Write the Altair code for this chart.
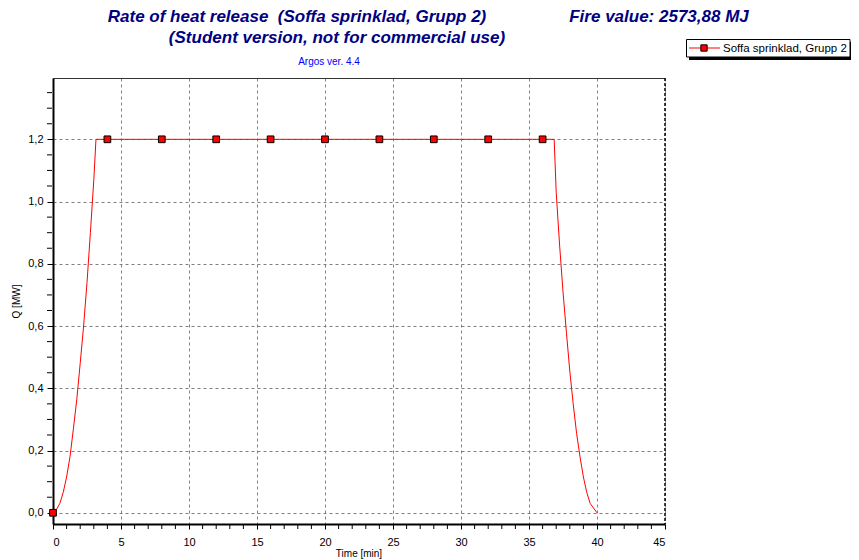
import altair as alt
import pandas as pd

# ---- data ----
line_t = [0.0, 0.25, 0.5, 0.75, 1.0, 1.25, 1.5, 1.75, 2.0, 2.25, 2.5, 2.75, 3.0, 3.16,
          36.85, 37.0, 37.25, 37.5, 37.75, 38.0, 38.25, 38.5, 38.75, 39.0, 39.25, 39.5, 40.0]
line_q = [0.0, 0.01, 0.03, 0.065, 0.115, 0.18, 0.27, 0.365, 0.48, 0.6, 0.74, 0.9, 1.07, 1.2,
          1.2, 1.03, 0.86, 0.71, 0.58, 0.455, 0.35, 0.255, 0.18, 0.115, 0.065, 0.03, 0.0]
marker_t = [0, 4, 8, 12, 16, 20, 24, 28, 32, 36]
marker_q = [0.0, 1.2, 1.2, 1.2, 1.2, 1.2, 1.2, 1.2, 1.2, 1.2]

series_name = "Soffa sprinklad, Grupp 2"
title_main = "Rate of heat release \u00a0(Soffa sprinklad, Grupp 2)"
title_fire = "Fire value: 2573,88 MJ"
title_sub = "(Student version, not for commercial use)"
title_ver = "Argos ver. 4.4"
x_title = "Time [min]"
y_title = "Q [MW]"

x_major = [0, 5, 10, 15, 20, 25, 30, 35, 40, 45]
x_minor = [v for v in range(0, 46) if v % 5 != 0]
y_major = [0.0, 0.2, 0.4, 0.6, 0.8, 1.0, 1.2]
y_minor = [0.05, 0.1, 0.15, 0.25, 0.3, 0.35, 0.45, 0.5, 0.55, 0.65, 0.7, 0.75,
           0.85, 0.9, 0.95, 1.05, 1.1, 1.15, 1.25, 1.3, 1.35]

FONT = "Liberation Sans"
NAVY = "#000080"

line_df = pd.DataFrame({"t": line_t, "q": line_q})
marker_df = pd.DataFrame({"t": marker_t, "q": marker_q})

x_scale = alt.Scale(domain=[0, 45], nice=False, zero=False)
y_scale = alt.Scale(domain=[-0.036, 1.397], nice=False, zero=False)

x_axis = alt.Axis(
    values=x_major, tickCount=10, labelOverlap=False,
    grid=True, gridColor="#808080", gridDash=[3, 3], gridWidth=1,
    domainColor="black", domainWidth=2,
    tickColor="black", tickSize=5, tickWidth=1,
    labelFont=FONT, labelFontSize=11, labelColor="black", labelPadding=7,
    title=None,
)
y_axis = alt.Axis(
    values=y_major, tickCount=7, labelOverlap=False,
    labelExpr="replace(format(datum.value, '.1f'), '.', ',')",
    grid=True, gridColor="#808080", gridDash=[3, 3], gridWidth=1,
    domainColor="black", domainWidth=2,
    tickColor="black", tickSize=6, tickWidth=1,
    labelFont=FONT, labelFontSize=11, labelColor="black", labelPadding=4,
    title=y_title, titleFont=FONT, titleFontSize=10, titleFontWeight="normal",
    titleColor="black", titlePadding=6,
)

base_line = alt.Chart(line_df).mark_line(color="#ff0000", strokeWidth=1).encode(
    x=alt.X("t:Q", scale=x_scale, axis=x_axis),
    y=alt.Y("q:Q", scale=y_scale, axis=y_axis),
)
markers = alt.Chart(marker_df).mark_point(
    shape="square", filled=True, fill="#ff0000", stroke="black", strokeWidth=1,
    size=45, opacity=1,
).encode(x=alt.X("t:Q", scale=x_scale, axis=x_axis),
         y=alt.Y("q:Q", scale=y_scale, axis=y_axis))

x_minor_ticks = alt.Chart(pd.DataFrame({"t": x_minor})).mark_rule(color="black", strokeWidth=1).encode(
    x=alt.X("t:Q", scale=x_scale, axis=x_axis), y=alt.value(447), y2=alt.value(451))
y_minor_ticks = alt.Chart(pd.DataFrame({"q": y_minor})).mark_rule(color="black", strokeWidth=1).encode(
    y=alt.Y("q:Q", scale=y_scale, axis=y_axis), x=alt.value(-6), x2=alt.value(-1))

one = pd.DataFrame({"v": [0]})

top_border = alt.Chart(one).mark_rule(color="#333333", strokeWidth=1).encode(
    x=alt.value(0), x2=alt.value(612), y=alt.value(0.5))
right_border = alt.Chart(one).mark_rule(color="black", strokeWidth=1.5, strokeDash=[3, 2]).encode(
    x=alt.value(612), y=alt.value(0), y2=alt.value(446))


def txt(s, x, y, size, color, bold=False, italic=False, align="center", baseline="middle"):
    return alt.Chart(pd.DataFrame({"s": [s]})).mark_text(
        font=FONT, fontSize=size, color=color, align=align, baseline=baseline,
        fontWeight="bold" if bold else "normal",
        fontStyle="italic" if italic else "normal",
    ).encode(text="s:N", x=alt.value(x), y=alt.value(y))


t1 = txt(title_main, 244, -61, 17, NAVY, True, True)
t2 = txt(title_fire, 606, -61, 17, NAVY, True, True)
t3 = txt(title_sub, 284, -40, 17, NAVY, True, True)
t4 = txt(title_ver, 276, -16, 10, "#0000ff")
tx = txt(x_title, 306, 479, 10, "black", baseline="alphabetic")

# legend (drawn with marks)
leg_shadow = alt.Chart(one).mark_rect(color="black").encode(
    x=alt.value(636), x2=alt.value(800), y=alt.value(-36), y2=alt.value(-18))
leg_box = alt.Chart(one).mark_rect(fill="white", stroke="black", strokeWidth=1).encode(
    x=alt.value(633.5), x2=alt.value(797), y=alt.value(-38.5), y2=alt.value(-21))
leg_line = alt.Chart(one).mark_rule(color="#ff0000", strokeWidth=1).encode(
    x=alt.value(636), x2=alt.value(667), y=alt.value(-30))
leg_mark = alt.Chart(one).mark_point(
    shape="square", filled=True, fill="#ff0000", stroke="black", strokeWidth=1, size=40, opacity=1
).encode(x=alt.value(651), y=alt.value(-30))
leg_text = txt(series_name, 670, -29.5, 11.5, "black", align="left")

chart = alt.layer(
    base_line, markers, x_minor_ticks, y_minor_ticks, top_border, right_border,
    t1, t2, t3, t4, tx, leg_shadow, leg_box, leg_line, leg_mark, leg_text,
).properties(
    width=612, height=446,
    padding={"left": 45, "top": 70, "right": 186, "bottom": 36},
    autosize=alt.AutoSizeParams(type="none"),
    background="white",
).configure_view(stroke=None)

chart.save("out.html", embed_options={"renderer": "svg", "actions": False})
